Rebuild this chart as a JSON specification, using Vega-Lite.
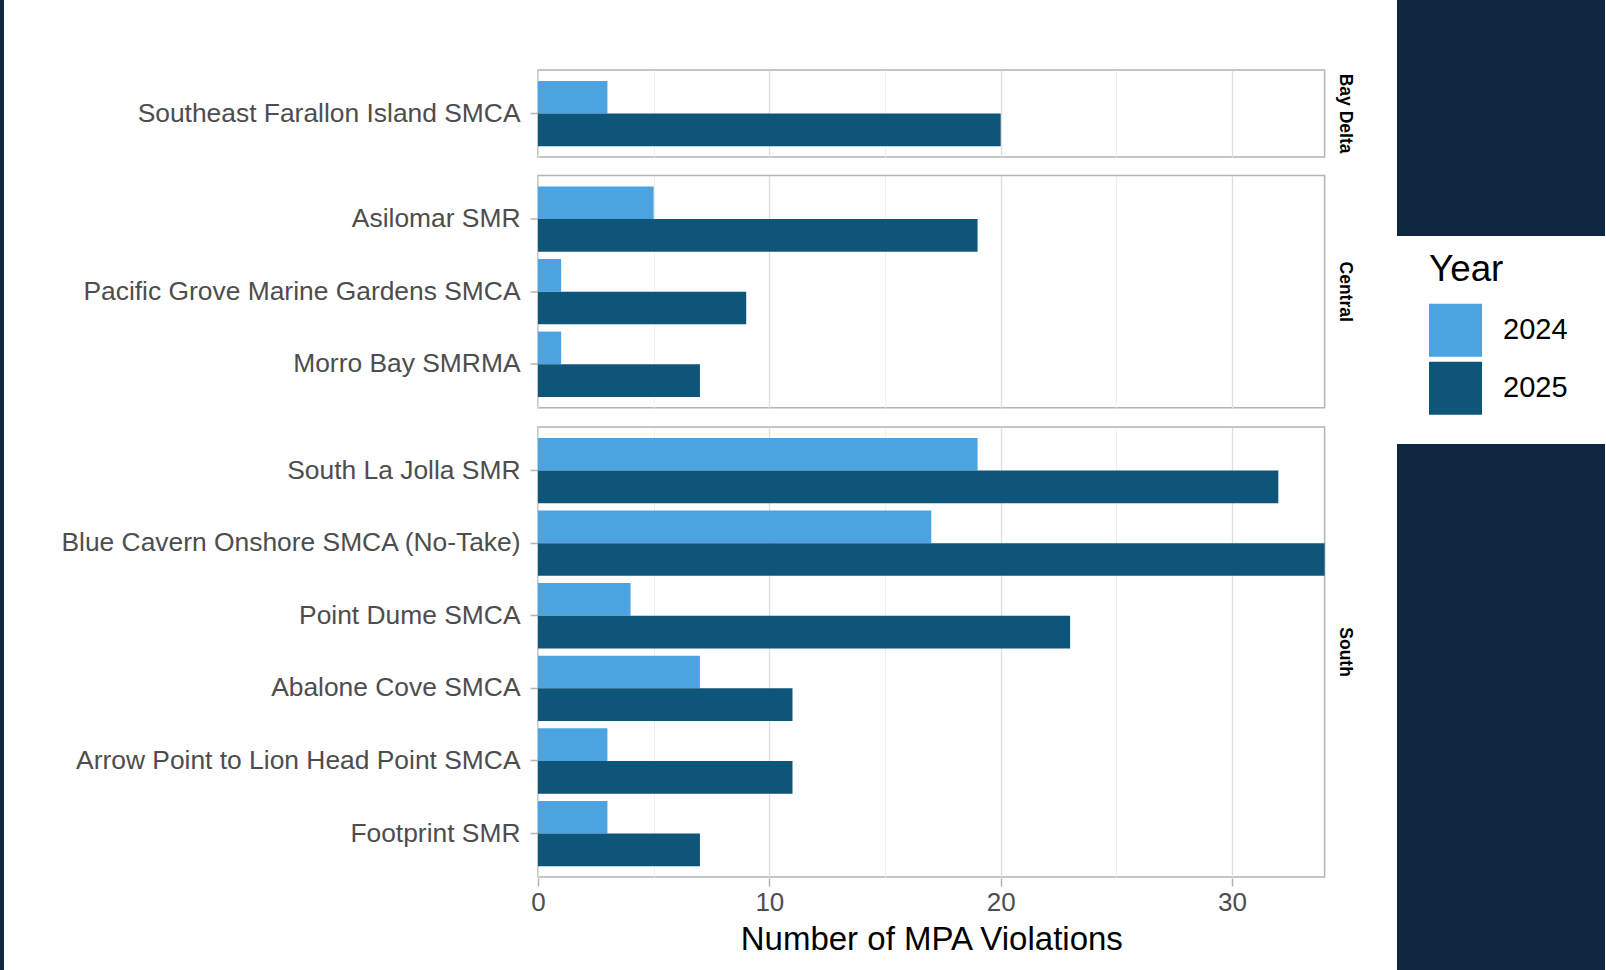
{
  "$schema": "https://vega.github.io/schema/vega-lite/v6.json",
  "background": "white",
  "padding": {"left": 0, "top": 0, "right": 0, "bottom": 0},
  "config": {
    "font": "Liberation Sans",
    "view": {"stroke": "#b3b3b3", "strokeWidth": 1.5},
    "legend": {"orient": "none"}
  },
  "datasets": {
    "mpa": [
      {"Region": "Bay Delta", "MPA": "Southeast Farallon Island SMCA", "Year": "2024", "Violations": 3},
      {"Region": "Bay Delta", "MPA": "Southeast Farallon Island SMCA", "Year": "2025", "Violations": 20},
      {"Region": "Central", "MPA": "Asilomar SMR", "Year": "2024", "Violations": 5},
      {"Region": "Central", "MPA": "Asilomar SMR", "Year": "2025", "Violations": 19},
      {"Region": "Central", "MPA": "Pacific Grove Marine Gardens SMCA", "Year": "2024", "Violations": 1},
      {"Region": "Central", "MPA": "Pacific Grove Marine Gardens SMCA", "Year": "2025", "Violations": 9},
      {"Region": "Central", "MPA": "Morro Bay SMRMA", "Year": "2024", "Violations": 1},
      {"Region": "Central", "MPA": "Morro Bay SMRMA", "Year": "2025", "Violations": 7},
      {"Region": "South", "MPA": "South La Jolla SMR", "Year": "2024", "Violations": 19},
      {"Region": "South", "MPA": "South La Jolla SMR", "Year": "2025", "Violations": 32},
      {"Region": "South", "MPA": "Blue Cavern Onshore SMCA (No-Take)", "Year": "2024", "Violations": 17},
      {"Region": "South", "MPA": "Blue Cavern Onshore SMCA (No-Take)", "Year": "2025", "Violations": 34},
      {"Region": "South", "MPA": "Point Dume SMCA", "Year": "2024", "Violations": 4},
      {"Region": "South", "MPA": "Point Dume SMCA", "Year": "2025", "Violations": 23},
      {"Region": "South", "MPA": "Abalone Cove SMCA", "Year": "2024", "Violations": 7},
      {"Region": "South", "MPA": "Abalone Cove SMCA", "Year": "2025", "Violations": 11},
      {"Region": "South", "MPA": "Arrow Point to Lion Head Point SMCA", "Year": "2024", "Violations": 3},
      {"Region": "South", "MPA": "Arrow Point to Lion Head Point SMCA", "Year": "2025", "Violations": 11},
      {"Region": "South", "MPA": "Footprint SMR", "Year": "2024", "Violations": 3},
      {"Region": "South", "MPA": "Footprint SMR", "Year": "2025", "Violations": 7}
    ]
  },
  "hconcat": [
    {"data": {"values": []}, "mark": "rect", "encoding": {}, "width": 4, "height": 970, "view": {"fill": "#0F2741", "stroke": null}},
    {
      "hconcat": [
        {
          "vconcat": [
            {"data": {"values": []}, "mark": "rect", "encoding": {}, "width": 10, "height": 69, "view": {"fill": null, "stroke": null}},
            {
              "data": {"name": "mpa"},
              "facet": {
                "row": {
                  "field": "Region", "type": "nominal",
                  "sort": ["Bay Delta", "Central", "South"],
                  "header": {
                    "title": null,
                    "labelOrient": "right",
                    "labelAngle": 90,
                    "labelFontSize": 17.5,
                    "labelFontWeight": "bold",
                    "labelColor": "black",
                    "labelPadding": 10
                  }
                }
              },
              "spacing": 16.5,
              "resolve": {"scale": {"y": "independent"}},
              "spec": {
                "width": 786.6,
                "height": {"step": 32.67},
                "mark": {"type": "bar"},
                "encoding": {
                  "y": {
                    "field": "MPA", "type": "nominal", "sort": null,
                    "scale": {"paddingInner": 0.1, "paddingOuter": 0.15},
                    "axis": {
                      "title": null,
                      "grid": false,
                      "domain": false,
                      "labelFontSize": 26.4,
                      "labelColor": "#4d4d4d",
                      "labelLimit": 700,
                      "labelPadding": 10,
                      "tickSize": 8,
                      "tickColor": "#b3b3b3",
                      "tickWidth": 1.5
                    }
                  },
                  "yOffset": {
                    "field": "Year", "type": "nominal", "sort": ["2024", "2025"],
                    "scale": {"paddingInner": 0, "paddingOuter": 0}
                  },
                  "x": {
                    "field": "Violations", "type": "quantitative",
                    "scale": {"domain": [0, 34], "nice": false, "zero": true},
                    "axis": {
                      "title": "Number of MPA Violations",
                      "titleFontSize": 33,
                      "titleFontWeight": "normal",
                      "titleColor": "black",
                      "titlePadding": 8,
                      "values": [0, 5, 10, 15, 20, 25, 30],
                      "labelExpr": "datum.value % 10 === 0 ? datum.label : ''",
                      "labelFlush": false,
                      "labelFontSize": 26,
                      "labelColor": "#4d4d4d",
                      "labelPadding": 3,
                      "domain": false,
                      "tickSize": 8,
                      "tickColor": "#b3b3b3",
                      "tickWidth": 1.5,
                      "tickOpacity": {"condition": {"test": "datum.value % 10 !== 0", "value": 0}, "value": 1},
                      "grid": true,
                      "gridColor": {"condition": {"test": "datum.value % 10 === 0", "value": "#dedede"}, "value": "#ebebeb"},
                      "gridWidth": {"condition": {"test": "datum.value % 10 === 0", "value": 1.3}, "value": 0.8}
                    }
                  },
                  "color": {
                    "field": "Year", "type": "nominal",
                    "scale": {"domain": ["2024", "2025"], "range": ["#4BA3E2", "#0D5579"]},
                    "legend": {
                      "orient": "none",
                      "legendX": 1429,
                      "legendY": 252,
                      "padding": 0,
                      "title": "Year",
                      "titleFontSize": 36.8,
                      "titleFontWeight": "normal",
                      "titleColor": "black",
                      "titlePadding": 15,
                      "labelFontSize": 29,
                      "labelColor": "black",
                      "labelOffset": 21,
                      "symbolType": "square",
                      "symbolSize": 2809,
                      "symbolStrokeWidth": 0,
                      "symbolOpacity": 1,
                      "rowPadding": 5
                    }
                  }
                }
              }
            }
          ],
          "spacing": 0
        },
        {
          "vconcat": [
            {"data": {"values": []}, "mark": "rect", "encoding": {}, "width": 208, "height": 236, "view": {"fill": "#0F2741", "stroke": null}},
            {"data": {"values": []}, "mark": "rect", "encoding": {}, "width": 208, "height": 526, "view": {"fill": "#0F2741", "stroke": null}}
          ],
          "spacing": 208
        }
      ],
      "spacing": 43
    }
  ],
  "spacing": 54
}
